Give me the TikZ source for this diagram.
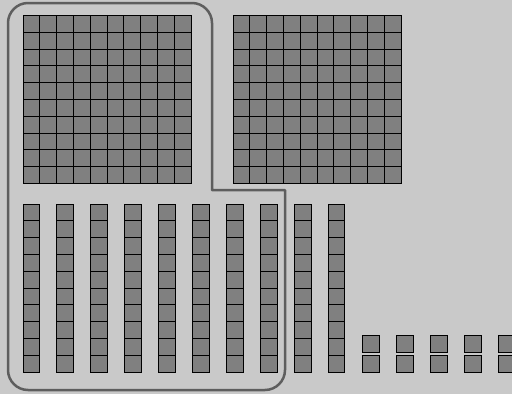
\documentclass[tikz,border=0pt]{standalone}
\usepackage{tikz}
\definecolor{bg}{HTML}{C9C9C9}
\definecolor{cellfill}{HTML}{808080}
\definecolor{outl}{HTML}{5E5E5E}
\tikzset{
  cell/.style={fill=cellfill, draw=black, line width=1pt},
  outline/.style={draw=outl, line width=2.5pt, line join=round}
}
\begin{document}
\begin{tikzpicture}[x=1pt,y=-1pt]
\fill[bg] (0,0) rectangle (512,394);
\useasboundingbox (0,0) rectangle (512,394);
\def\cs{16.8}
% hundreds
\foreach \hx in {23,233}{
  \foreach \i in {0,...,9}{
    \foreach \j in {0,...,9}{
      \draw[cell] ({\hx+\i*\cs},{15.5+\j*\cs}) rectangle ++(\cs,\cs);
    }
  }
}
% tens (rods)
\foreach \r in {0,...,9}{
  \foreach \j in {0,...,9}{
    \draw[cell] ({23+\r*33.9},{204+\j*\cs}) rectangle ++(\cs,\cs);
  }
}
% units
\foreach \u in {0,...,4}{
  \draw[cell] ({362+\u*34},335) rectangle ++(17,17);
  \draw[cell] ({362+\u*34},355) rectangle ++(17,17);
}
% outline
\draw[outline] (212,190) -- (285,190) -- (285,370)
  .. controls (285,381) and (276,390) .. (265,390) -- (28,390)
  .. controls (17,390) and (8,381) .. (8,370) -- (8,23)
  .. controls (8,12) and (17,3) .. (28,3) -- (192,3)
  .. controls (203,3) and (212,12) .. (212,23) -- cycle;
\end{tikzpicture}
\end{document}
